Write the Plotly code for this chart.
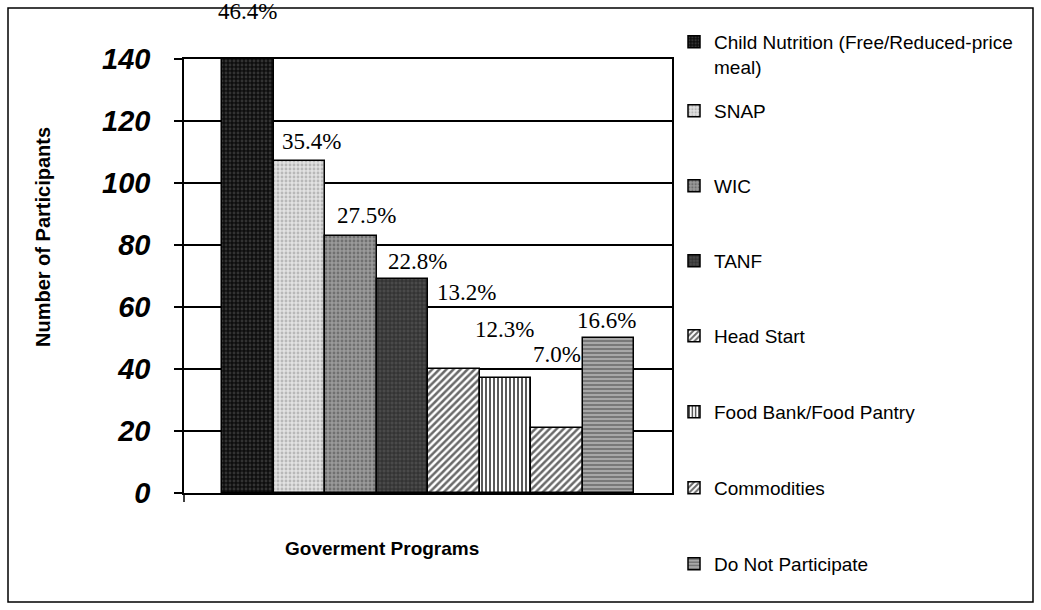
import plotly.graph_objects as go

# ---- data ----
programs = ["Child Nutrition (Free/Reduced-price<br>meal)", "SNAP", "WIC", "TANF",
            "Head Start", "Food Bank/Food Pantry", "Commodities", "Do Not Participate"]
participants = [140, 107, 83, 69, 40, 37, 21, 50]
percent_labels = ["46.4%", "35.4%", "27.5%", "22.8%", "13.2%", "12.3%", "7.0%", "16.6%"]
y_ticks = [0, 20, 40, 60, 80, 100, 120, 140]

# ---- styles ----
bg_colors = ["#0e0e0e", "#e2e2e2", "#9a9a9a", "#4a4a4a", "#ffffff", "#ffffff", "#ffffff", "#a8a8a8"]
fg_colors = ["#333333", "#b8b8b8", "#707070", "#262626", "#6a6a6a", "#5a5a5a", "#6a6a6a", "#6c6c6c"]
shapes_pat = [".", ".", ".", "+", "/", "|", "/", "-"]
pat_sizes = [4, 4, 4, 4, 5, 4, 5, 4]
pat_solid = [0.4, 0.4, 0.4, 0.35, 0.5, 0.5, 0.5, 0.4]
label_dx = [0, 12, 16, 15, 13, -1, 0, -2]
label_dy = [48, 20, 20, 18, 77, 49, 73, 18]
legend_py = [23, 111, 186, 261, 336, 412, 488, 564]

W, H = 1041, 610
L, R, T, B = 184, 672, 59, 493


def px2paper_x(px):
    return (px - L) / (R - L)


def px2paper_y(py):
    return (B - py) / (B - T)


fig = go.Figure()
for i, name in enumerate(programs):
    lname = "legend" if i == 0 else f"legend{i + 1}"
    fig.add_trace(go.Bar(
        x=[name], y=[participants[i]], name=name, legend=lname,
        marker=dict(color=bg_colors[i],
                    line=dict(color="black", width=1.5),
                    pattern=dict(shape=shapes_pat[i], bgcolor=bg_colors[i],
                                 fgcolor=fg_colors[i], size=pat_sizes[i],
                                 solidity=pat_solid[i], fillmode="replace")),
        width=1.0, showlegend=True,
    ))

annotations = []
for i, name in enumerate(programs):
    annotations.append(dict(
        x=name, y=participants[i], xref="x", yref="y",
        text=percent_labels[i], showarrow=False,
        xshift=label_dx[i], yshift=label_dy[i],
        xanchor="center", yanchor="middle",
        font=dict(family="Liberation Serif", size=23, color="black"),
    ))

annotations.append(dict(
    x=px2paper_x(382), y=px2paper_y(548), xref="paper", yref="paper",
    xanchor="center", yanchor="middle",
    text="Goverment Programs", showarrow=False,
    font=dict(family="Liberation Sans", size=19, color="black", weight="bold"),
))
annotations.append(dict(
    x=px2paper_x(43), y=px2paper_y(237), xref="paper", yref="paper",
    xanchor="center", yanchor="middle",
    text="Number of Participants", showarrow=False, textangle=-90,
    font=dict(family="Liberation Sans", size=20, color="black", weight="bold"),
))

legend_font = dict(family="Liberation Sans", size=19, color="black")
layout_legends = {}
for i in range(len(programs)):
    key = "legend" if i == 0 else f"legend{i + 1}"
    layout_legends[key] = dict(
        xref="container", yref="container",
        x=674 / W, y=1 - legend_py[i] / H,
        xanchor="left", yanchor="top" if i == 0 else "middle",
        valign="top", font=legend_font, bgcolor="rgba(0,0,0,0)",
        borderwidth=0,
    )

shapes = [
    # outer chart border
    dict(type="rect", xref="paper", yref="paper",
         x0=px2paper_x(8), x1=px2paper_x(1033), y0=px2paper_y(602), y1=px2paper_y(8),
         line=dict(color="black", width=1.5), fillcolor="rgba(0,0,0,0)", layer="below"),
    # single category tick at left end of x axis
    dict(type="line", xref="paper", yref="paper",
         x0=0, x1=0, y0=0, y1=px2paper_y(502),
         line=dict(color="black", width=1.5)),
]

fig.update_layout(
    width=W, height=H,
    margin=dict(l=L, r=W - R, t=T, b=H - B, autoexpand=False),
    paper_bgcolor="white", plot_bgcolor="white",
    barmode="overlay", bargap=0,
    annotations=annotations, shapes=shapes,
    font=dict(family="Liberation Sans", color="black"),
    **layout_legends,
)

n = len(programs)
pad = (222 - L) / ((634 - 222) / n)
fig.update_xaxes(
    type="category", range=[-0.5 - pad, n - 0.5 + pad],
    showticklabels=False, ticks="", showgrid=False,
    showline=True, linecolor="black", linewidth=1.5, mirror=True,
    zeroline=False,
)
fig.update_yaxes(
    range=[0, 140], tickvals=y_ticks,
    ticks="outside", ticklen=8, tickcolor="black", tickwidth=1.5,
    tickfont=dict(family="Liberation Sans", size=29, color="black",
                  weight="bold", style="italic"),
    ticklabelstandoff=18,
    showgrid=True, gridcolor="black", gridwidth=1.8,
    showline=True, linecolor="black", linewidth=1.5, mirror=True,
    zeroline=False,
)

fig.write_html("out.html")
